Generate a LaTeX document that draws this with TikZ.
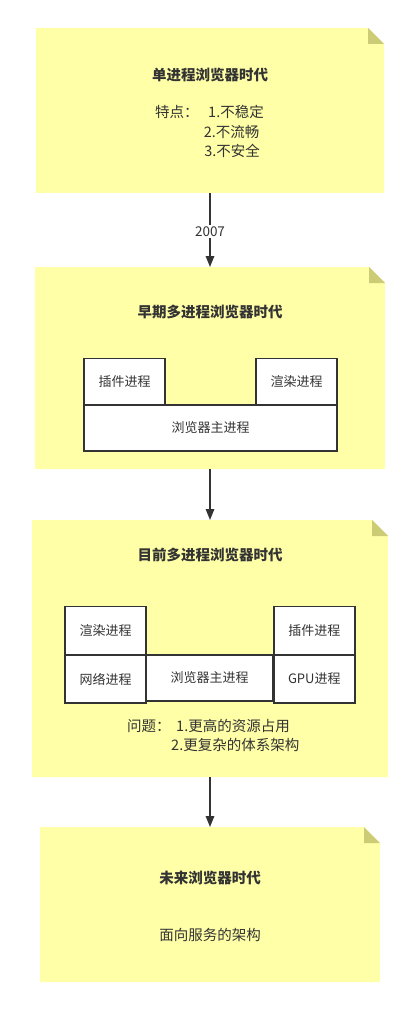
\documentclass[tikz,border=0pt]{standalone}
\usepackage{fontspec}
\setmainfont{Noto Sans CJK SC}
\usetikzlibrary{arrows.meta}
\definecolor{notefill}{HTML}{FFFFA8}
\definecolor{foldfill}{HTML}{CCCC77}
\definecolor{ink}{HTML}{333333}
\tikzset{
  note/.style={inner sep=0pt, outer sep=0pt, draw=none,
    path picture={
      \fill[notefill] (path picture bounding box.south west) -- (path picture bounding box.north west)
        -- ([xshift=-16pt]path picture bounding box.north east) -- ([yshift=-16pt]path picture bounding box.north east)
        -- (path picture bounding box.south east) -- cycle;
      \fill[foldfill] ([xshift=-16pt]path picture bounding box.north east) -- ([xshift=-16pt,yshift=-16pt]path picture bounding box.north east)
        -- ([yshift=-16pt]path picture bounding box.north east) -- cycle;
    }},
  title/.style={font=\fontsize{14.5pt}{16pt}\selectfont\bfseries, text=ink, inner sep=0pt},
  body/.style={font=\fontsize{14.5pt}{16pt}\selectfont, text=ink, inner sep=0pt, anchor=west},
  bodyc/.style={font=\fontsize{14.5pt}{16pt}\selectfont, text=ink, inner sep=0pt},
  pbox/.style={draw=ink, line width=1.6pt, fill=white, inner sep=0pt, outer sep=0pt,
    font=\fontsize{13pt}{15pt}\selectfont, text=ink},
  flow/.style={draw=ink, line width=1.5pt, -{Triangle[length=11pt,width=8.5pt]}},
  lbl/.style={fill=white, inner sep=1.5pt, font=\fontsize{13.5pt}{15pt}\selectfont, text=ink}
}
\begin{document}
\begin{tikzpicture}[x=1pt,y=-1pt]
\useasboundingbox[fill=white] (0,0) rectangle (417,1016);
% notes
\node[note, minimum width=348pt, minimum height=165pt] (n1) at (210,110.5) {};
\node[note, minimum width=350pt, minimum height=202pt] (n2) at (210,368) {};
\node[note, minimum width=356pt, minimum height=257pt] (n3) at (210,648.5) {};
\node[note, minimum width=340pt, minimum height=155pt] (n4) at (210,904.5) {};
% note 1 text
\node[title] (t1) at (210,75) {单进程浏览器时代};
\node[body] (f0) at (155,112.3) {特点：};
\node[body] (f1) at (208,112.3) {1.不稳定};
\node[body] (f2) at (203.7,131.5) {2.不流畅};
\node[body] (f3) at (204.2,150.5) {3.不安全};
% note 2
\node[title] (t2) at (210,312.3) {早期多进程浏览器时代};
\node[pbox, minimum width=81pt, minimum height=46.5pt] (a1) at (124.5,381.8) {插件进程};
\node[pbox, minimum width=81pt, minimum height=46.5pt] (a2) at (296.5,381.8) {渲染进程};
\node[pbox, minimum width=253pt, minimum height=46pt] (a3) at (210.5,428) {浏览器主进程};
% note 3
\node[title] (t3) at (210,555) {目前多进程浏览器时代};
\node[pbox, minimum width=81pt, minimum height=48.5pt] (b1) at (105.5,630.8) {渲染进程};
\node[pbox, minimum width=81pt, minimum height=48pt] (b2) at (105.5,679) {网络进程};
\node[pbox, minimum width=127pt, minimum height=46pt] (b3) at (209.7,678) {浏览器主进程};
\node[pbox, minimum width=81pt, minimum height=48.5pt] (b4) at (314.3,630.8) {插件进程};
\node[pbox, minimum width=81pt, minimum height=48pt] (b5) at (314.3,679) {GPU进程};
\node[body] (q0) at (127,726) {问题：};
\node[body] (q1) at (176,726) {1.更高的资源占用};
\node[body] (q2) at (171,745) {2.更复杂的体系架构};
% note 4
\node[title] (t4) at (210,877.5) {未来浏览器时代};
\node[bodyc] (s4) at (210,934.5) {面向服务的架构};
% connectors
\draw[flow] (n1.south) -- node[lbl, pos=0.52] (y1) {2007} (n2.north);
\draw[flow] (n2.south) -- (n3.north);
\draw[flow] (n3.south) -- (n4.north);
\end{tikzpicture}
\end{document}
